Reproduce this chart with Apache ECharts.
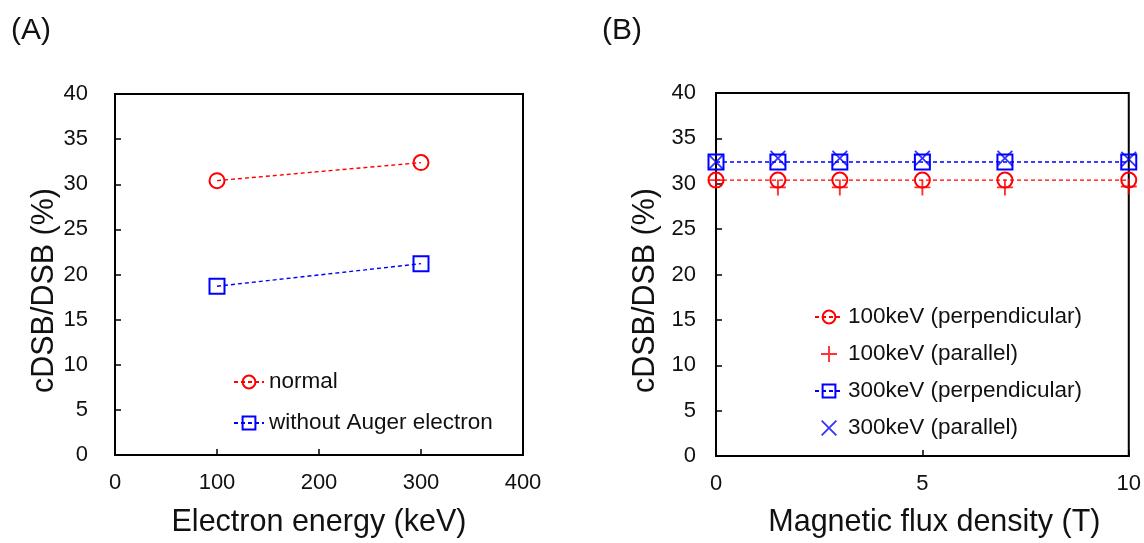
<!DOCTYPE html>
<html>
<head>
<meta charset="utf-8">
<script src="https://cdn.jsdelivr.net/npm/echarts@6/dist/echarts.min.js"></script>
<style>
  html, body { margin: 0; padding: 0; background: #fff; }
  #chart { width: 1144px; height: 543px; }
</style>
</head>
<body>
<div id="chart"></div>
<script>
// panel A: cDSB/DSB vs electron energy
const energyKeV = [100, 300];
const normal = [30.4, 32.4];
const withoutAuger = [18.7, 21.2];

// panel B: cDSB/DSB vs magnetic flux density
const fluxT = [0, 1.5, 3, 5, 7, 10];
const perp100 = [30.4, 30.4, 30.4, 30.4, 30.4, 30.4];
const para100 = [30.4, 29.6, 29.6, 29.6, 29.6, 29.7];
const perp300 = [32.4, 32.4, 32.4, 32.4, 32.4, 32.4];
const para300 = [32.4, 32.8, 32.8, 32.8, 32.8, 32.7];

const FONT = '"Liberation Sans", Arial, sans-serif';
const RED = '#ff0000';
const BLUE = '#0000ff';
const PLUS = 'path://M8.8,0H11.2V8.8H20V11.2H11.2V20H8.8V11.2H0V8.8H8.8Z';
const CROSS = 'path://M1.6,0L10,8.4L18.4,0L20,1.6L11.6,10L20,18.4L18.4,20L10,11.6L1.6,20L0,18.4L8.4,10L0,1.6Z';

const zip = (xs, ys) => xs.map((x, i) => [x, ys[i]]);

const dashedLine = (name, idx, x, y, color, symbol) => ({
  name: name,
  type: 'line',
  xAxisIndex: idx,
  yAxisIndex: idx,
  data: zip(x, y),
  symbol: symbol,
  symbolSize: 15,
  clip: false,
  lineStyle: { color: color, width: 1.4, type: [4, 3] },
  itemStyle: { color: 'rgba(255,255,255,0)', borderColor: color, borderWidth: 2 },
  emphasis: { disabled: true },
});

const markers = (name, idx, x, y, color, symbol) => ({
  name: name,
  type: 'scatter',
  xAxisIndex: idx,
  yAxisIndex: idx,
  data: zip(x, y),
  symbol: symbol,
  symbolSize: 16,
  clip: false,
  itemStyle: { color: color },
  emphasis: { disabled: true },
});

const tickLabel = { color: '#111', fontSize: 22, fontFamily: FONT };
const axisName = { color: '#111', fontSize: 30.5, fontFamily: FONT };
const legendText = { color: '#111', fontSize: 22.5, fontFamily: FONT, lineHeight: 24 };

const yAxisCfg = (idx, labelGap) => ({
  type: 'value',
  gridIndex: idx,
  min: 0,
  max: 40,
  interval: 5,
  name: 'cDSB/DSB (%)',
  nameLocation: 'middle',
  nameGap: 55,
  nameTextStyle: Object.assign({ padding: [0, 32, 0, 0] }, axisName),
  axisLine: { show: true, lineStyle: { color: '#000', width: 2 } },
  axisTick: { show: true, inside: true, length: 6, lineStyle: { color: '#000', width: 1.5 } },
  axisLabel: Object.assign({ margin: labelGap }, tickLabel),
  splitLine: { show: false },
});

let myChart = echarts.init(document.getElementById('chart'));
let option = {
  animation: false,
  backgroundColor: '#fff',
  grid: [
    { left: 115, top: 94, width: 408, height: 364, show: true, borderColor: '#000', borderWidth: 2 },
    { left: 716, top: 93, width: 415, height: 366, show: true, borderColor: '#000', borderWidth: 2 },
  ],
  xAxis: [
    {
      type: 'value',
      gridIndex: 0,
      min: 0,
      max: 400,
      interval: 100,
      name: 'Electron energy (keV)',
      nameLocation: 'middle',
      nameGap: 52,
      nameTextStyle: axisName,
      axisLine: { show: true, lineStyle: { color: '#000', width: 2 } },
      axisTick: { show: true, inside: true, length: 6, lineStyle: { color: '#000', width: 1.5 } },
      axisLabel: Object.assign({ margin: 17 }, tickLabel),
      splitLine: { show: false },
    },
    {
      type: 'value',
      gridIndex: 1,
      min: 0,
      max: 10,
      interval: 5,
      name: 'Magnetic flux density (T)',
      nameLocation: 'middle',
      nameGap: 51,
      nameTextStyle: Object.assign({ padding: [0, 0, 0, 24] }, axisName),
      axisLine: { show: true, lineStyle: { color: '#000', width: 2 } },
      axisTick: { show: true, inside: true, length: 6, lineStyle: { color: '#000', width: 1.5 } },
      axisLabel: Object.assign({ margin: 17 }, tickLabel),
      splitLine: { show: false },
    },
  ],
  yAxis: [yAxisCfg(0, 27), yAxisCfg(1, 20)],
  legend: [
    {
      data: ['normal', 'without Auger electron'],
      orient: 'vertical',
      left: 228,
      top: 365,
      itemWidth: 30,
      itemHeight: 16,
      itemGap: 17,
      selectedMode: false,
      textStyle: legendText,
    },
    {
      data: ['100keV (perpendicular)', '100keV (parallel)', '300keV (perpendicular)', '300keV (parallel)'],
      orient: 'vertical',
      left: 809,
      top: 300,
      itemWidth: 28,
      itemHeight: 16,
      itemGap: 13,
      selectedMode: false,
      textStyle: legendText,
    },
  ],
  graphic: [
    { type: 'text', left: 11, top: 16, style: { text: '(A)', fontSize: 30, fontFamily: FONT, fill: '#111' } },
    { type: 'text', left: 602, top: 16, style: { text: '(B)', fontSize: 30, fontFamily: FONT, fill: '#111' } },
  ],
  series: [
    dashedLine('normal', 0, energyKeV, normal, RED, 'circle'),
    dashedLine('without Auger electron', 0, energyKeV, withoutAuger, BLUE, 'rect'),
    dashedLine('100keV (perpendicular)', 1, fluxT, perp100, RED, 'circle'),
    markers('100keV (parallel)', 1, fluxT, para100, RED, PLUS),
    dashedLine('300keV (perpendicular)', 1, fluxT, perp300, BLUE, 'rect'),
    markers('300keV (parallel)', 1, fluxT, para300, BLUE, CROSS),
  ],
};
myChart.setOption(option);
</script>
</body>
</html>
